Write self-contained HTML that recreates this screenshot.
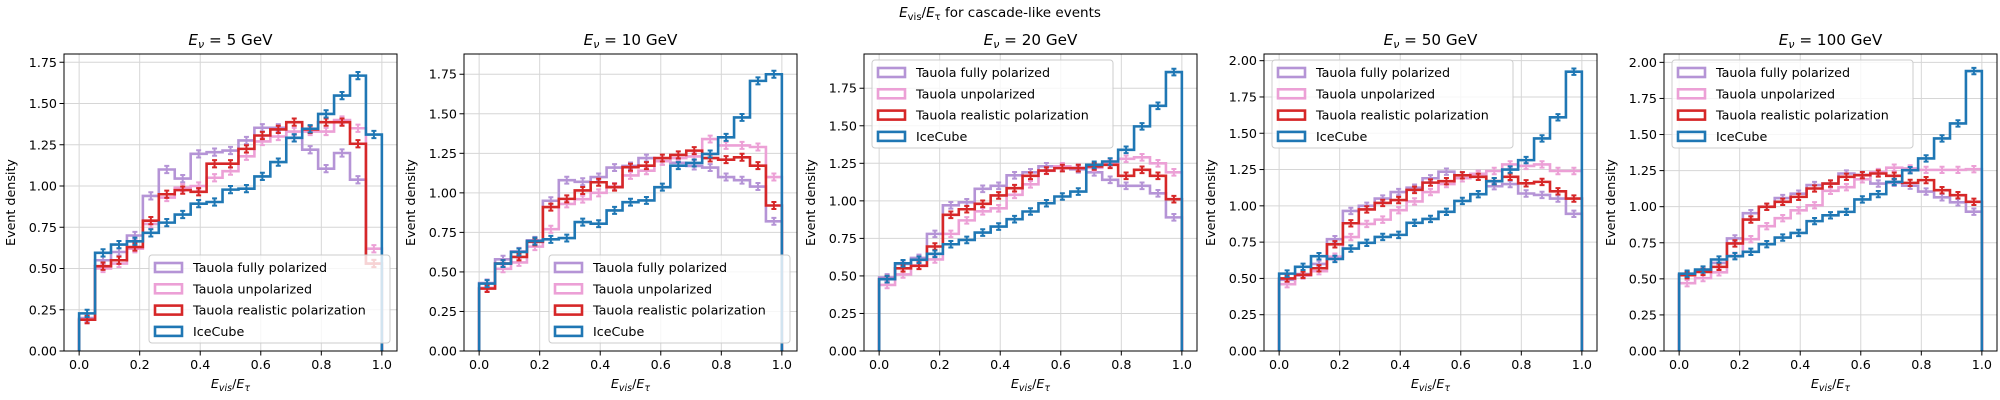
<!DOCTYPE html>
<html><head><meta charset="utf-8">
<style>
html,body{margin:0;padding:0;background:#fff;}
svg{display:block;font-family:"DejaVu Sans","Liberation Sans",sans-serif;}
</style></head>
<body>
<svg id="chart" width="2000" height="400" viewBox="0 0 2000 400" xmlns="http://www.w3.org/2000/svg">
<text x="1000" y="17" font-size="13.5" text-anchor="middle"><tspan font-style="italic">E</tspan><tspan font-size="10" dy="3">vis</tspan><tspan dy="-3">/</tspan><tspan font-style="italic">E</tspan><tspan font-size="10" dy="3">τ</tspan><tspan dy="-3"> for cascade-like events</tspan></text>
</svg>
<script>
const energies = ["5","10","20","50","100"];
const yMaxes = [1.80, 1.878, 1.978, 2.046, 2.058];
const xTicks = [0, 0.2, 0.4, 0.6, 0.8, 1.0];
const xTickLabels = ["0.0","0.2","0.4","0.6","0.8","1.0"];
const yTicks = [0, 0.25, 0.5, 0.75, 1.0, 1.25, 1.5, 1.75, 2.0];
const yTickLabels = ["0.00","0.25","0.50","0.75","1.00","1.25","1.50","1.75","2.00"];
const seriesNames = ["Tauola fully polarized","Tauola unpolarized","Tauola realistic polarization","IceCube"];
const legendLoc = ["lower right","lower right","upper left","upper left","upper left"];
const errSize = 0.022;

const fullyPol = [
 [0.20,0.55,0.60,0.70,0.94,1.10,1.045,1.195,1.205,1.215,1.276,1.353,1.353,1.292,1.22,1.105,1.20,1.038,0.53],
 [0.43,0.58,0.63,0.70,0.95,1.08,1.07,1.10,1.16,1.17,1.22,1.20,1.19,1.17,1.16,1.10,1.08,1.04,0.82],
 [0.49,0.58,0.62,0.78,0.97,0.99,1.08,1.10,1.17,1.19,1.23,1.22,1.21,1.19,1.14,1.10,1.10,1.05,0.89],
 [0.49,0.53,0.60,0.77,0.965,1.00,1.05,1.095,1.125,1.19,1.235,1.21,1.22,1.135,1.15,1.085,1.075,1.05,0.945],
 [0.53,0.55,0.61,0.78,0.955,1.00,1.06,1.09,1.15,1.16,1.23,1.22,1.16,1.165,1.145,1.105,1.065,1.03,0.965]
];
const unPol = [
 [0.19,0.50,0.53,0.62,0.77,0.93,0.99,1.00,1.05,1.09,1.18,1.27,1.30,1.33,1.33,1.33,1.40,1.35,0.62],
 [0.40,0.52,0.56,0.66,0.77,0.93,0.96,1.00,1.04,1.11,1.14,1.20,1.22,1.23,1.34,1.30,1.30,1.29,1.10],
 [0.44,0.51,0.57,0.61,0.78,0.87,0.93,0.95,1.04,1.11,1.20,1.23,1.22,1.22,1.25,1.28,1.29,1.25,1.19],
 [0.46,0.52,0.55,0.65,0.785,0.875,0.905,0.97,1.03,1.095,1.15,1.19,1.22,1.24,1.285,1.275,1.285,1.24,1.24],
 [0.47,0.505,0.545,0.66,0.775,0.865,0.92,0.975,1.01,1.11,1.135,1.19,1.24,1.27,1.265,1.255,1.255,1.255,1.26]
];
const realPol = [
 [0.19,0.514,0.55,0.63,0.79,0.95,0.975,0.965,1.135,1.135,1.225,1.306,1.343,1.387,1.343,1.387,1.387,1.256,0.53],
 [0.395,0.553,0.595,0.69,0.91,0.962,1.015,1.067,1.036,1.162,1.172,1.22,1.24,1.267,1.22,1.21,1.225,1.172,0.92],
 [0.478,0.551,0.567,0.696,0.907,0.944,0.98,1.036,1.084,1.167,1.202,1.218,1.218,1.229,1.24,1.167,1.207,1.167,1.011],
 [0.50,0.525,0.57,0.735,0.88,0.975,1.02,1.04,1.11,1.16,1.17,1.21,1.20,1.17,1.20,1.155,1.165,1.10,1.05],
 [0.525,0.548,0.583,0.745,0.911,0.999,1.034,1.068,1.126,1.16,1.207,1.218,1.23,1.214,1.165,1.184,1.114,1.08,1.034]
];
const iceCube = [
 [0.228,0.595,0.645,0.665,0.716,0.778,0.827,0.893,0.903,0.978,0.984,1.058,1.145,1.292,1.347,1.437,1.548,1.669,1.312],
 [0.426,0.553,0.626,0.695,0.706,0.714,0.815,0.805,0.889,0.941,0.952,1.036,1.172,1.189,1.246,1.351,1.477,1.708,1.75],
 [0.478,0.584,0.607,0.647,0.711,0.74,0.789,0.829,0.878,0.929,0.984,1.029,1.062,1.24,1.262,1.34,1.496,1.633,1.858],
 [0.533,0.58,0.653,0.634,0.706,0.745,0.786,0.80,0.883,0.91,0.959,1.034,1.08,1.17,1.25,1.315,1.464,1.61,1.924],
 [0.536,0.564,0.634,0.657,0.687,0.74,0.786,0.818,0.90,0.94,0.964,1.05,1.087,1.172,1.253,1.334,1.473,1.577,1.94]
];

const colors = ["#b594d6","#eca0d6","#d62728","#1f77b4"];
const seriesKeys = ["fully-polarized","unpolarized","realistic-polarization","icecube"];
const NS = "http://www.w3.org/2000/svg";
const svg = document.getElementById("chart");
function mk(tag, attrs, parent){
  const e = document.createElementNS(NS, tag);
  for (const k in attrs) e.setAttribute(k, attrs[k]);
  (parent||svg).appendChild(e);
  return e;
}
const AX_W = 333, AX_TOP = 54, AX_BOT = 351;

energies.forEach((en, p) => {
  const left = 64 + 400*p;
  const g = mk("g", {});
  
  
  const xs = v => left + (v + 0.05) / 1.1 * AX_W;
  const ys = v => AX_BOT - v / yMaxes[p] * (AX_BOT - AX_TOP);

  xTicks.forEach((t) => {
    const l = mk("line", {x1:xs(t), x2:xs(t), y1:AX_TOP, y2:AX_BOT, stroke:"#d6d6d6", "stroke-width":1}, g);
    
    
  });
  yTicks.forEach((t) => {
    if (t > yMaxes[p]) return;
    const l = mk("line", {x1:left, x2:left+AX_W, y1:ys(t), y2:ys(t), stroke:"#d6d6d6", "stroke-width":1}, g);
    
    
  });

  const allSeries = [fullyPol[p], unPol[p], realPol[p], iceCube[p]];
  allSeries.forEach((vals, s) => {
    const n = vals.length;
    const edge = i => xs(i / n);
    let d = "M" + edge(0) + "," + ys(0);
    vals.forEach((v, i) => { d += " V" + ys(v) + " H" + edge(i+1); });
    d += " V" + ys(0);
    const path = mk("path", {d:d, fill:"none", stroke:colors[s], "stroke-width":2.6, "stroke-linejoin":"miter"}, g);
    
    
    vals.forEach((v, i) => {
      const cx = (edge(i) + edge(i+1)) / 2;
      const y1 = ys(v + errSize), y2 = ys(v - errSize);
      const eb = mk("path", {d:"M"+cx+","+y1+" V"+y2+" M"+(cx-2.5)+","+y1+" H"+(cx+2.5)+" M"+(cx-2.5)+","+y2+" H"+(cx+2.5), stroke:colors[s], "stroke-width":2, fill:"none"}, g);
      
      
    });
  });

  const fr = mk("rect", {x:left, y:AX_TOP, width:AX_W, height:AX_BOT-AX_TOP, fill:"none", stroke:"#000", "stroke-width":1}, g);
  
  

  xTicks.forEach((t, i) => {
    mk("line", {x1:xs(t), x2:xs(t), y1:AX_BOT, y2:AX_BOT+4.5, stroke:"#000", "stroke-width":1}, g);
    const tx = mk("text", {x:xs(t), y:AX_BOT+18, "font-size":12.7, "text-anchor":"middle"}, g);
    
    
    tx.textContent = xTickLabels[i];
  });
  yTicks.forEach((t, i) => {
    if (t > yMaxes[p]) return;
    mk("line", {x1:left-4.5, x2:left, y1:ys(t), y2:ys(t), stroke:"#000", "stroke-width":1}, g);
    const ty = mk("text", {x:left-7, y:ys(t)+4.5, "font-size":12.7, "text-anchor":"end"}, g);
    
    
    ty.textContent = yTickLabels[i];
  });

  const xl = mk("text", {x:left+AX_W/2, y:388, "font-size":12.7, "text-anchor":"middle"}, g);
  
  
  xl.innerHTML = '<tspan font-style="italic">E</tspan><tspan font-size="9.5" dy="3" font-style="italic">vis</tspan><tspan dy="-3">/</tspan><tspan font-style="italic">E</tspan><tspan font-size="9.5" dy="3" font-style="italic">τ</tspan>';
  const yl = mk("text", {x:0, y:0, "font-size":12.7, "text-anchor":"middle", transform:"translate("+(left-49)+","+((AX_TOP+AX_BOT)/2)+") rotate(-90)"}, g);
  
  
  yl.textContent = "Event density";

  const tt = mk("text", {x:left+AX_W/2, y:45, "font-size":15.2, "text-anchor":"middle"}, g);
  
  
  tt.innerHTML = '<tspan font-style="italic">E</tspan><tspan font-size="11" dy="3" font-style="italic">ν</tspan><tspan dy="-3"> = ' + en + ' GeV</tspan>';

  const lw = 241, lh = 88;
  const lx = legendLoc[p] === "lower right" ? left + AX_W - 7 - lw : left + 8;
  const ly = legendLoc[p] === "lower right" ? AX_BOT - 8 - lh : AX_TOP + 6;
  const lg = mk("g", {}, g);
  
  
  mk("rect", {x:lx, y:ly, width:lw, height:lh, rx:3, fill:"#fff", "fill-opacity":0.8, stroke:"#cccccc", "stroke-width":1}, lg);
  seriesNames.forEach((nm, s) => {
    const cy = ly + 12.5 + s*21.3;
    const ent = mk("g", {}, lg);
    
    
    mk("rect", {x:lx+6, y:cy-4.5, width:27, height:9, fill:"none", stroke:colors[s], "stroke-width":2.6}, ent);
    const t = mk("text", {x:lx+44, y:cy+4.5, "font-size":12.7}, ent);
    t.textContent = nm;
  });
});
</script>
</body></html>
